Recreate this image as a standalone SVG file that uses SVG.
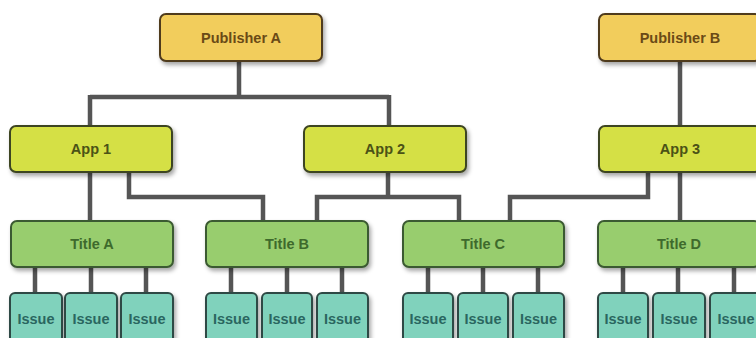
<svg xmlns="http://www.w3.org/2000/svg" width="756" height="338" viewBox="0 0 756 338">
<defs>
<filter id="sh" x="-10%" y="-20%" width="125%" height="150%">
<feDropShadow dx="2" dy="3" stdDeviation="2" flood-color="#000" flood-opacity="0.35"/>
</filter>
</defs>
<style>
text{font-family:"Liberation Sans",Arial,sans-serif;font-weight:bold;font-size:14.5px;text-anchor:middle;dominant-baseline:central}
.pub rect{fill:#f2cd5c;stroke:#4f3a1c;stroke-width:2;filter:url(#sh)}
.pub text{fill:#6a4a16}
.app rect{fill:#d5e044;stroke:#3d4420;stroke-width:2;filter:url(#sh)}
.app text{fill:#4b5216}
.title rect{fill:#98cd6e;stroke:#3a5a30;stroke-width:2;filter:url(#sh)}
.title text{fill:#3e6a2c}
.issue rect{fill:#80d2bc;stroke:#2f4a44;stroke-width:2;filter:url(#sh)}
.issue text{fill:#2a6660}
#connectors path{fill:none;stroke:#555;stroke-width:4.5}
</style>
<rect width="756" height="338" fill="#fff"/>
<g id="connectors">
<path d="M239 62V97M90 97H389M90 95V126M389 95V126"/>
<path d="M90 172V221M129 172V197H263V221"/>
<path d="M388 172V197M317 221V197H459V221"/>
<path d="M680 62V126M680 172V221M648 172V197H510V221"/>
<path d="M35 267V293M91 267V293M146 267V293"/>
<path d="M231 267V293M287 267V293M342 267V293"/>
<path d="M428 267V293M483 267V293M538 267V293"/>
<path d="M623 267V293M678 267V293M734 267V293"/>
</g>
<g id="publisherA" class="pub"><rect x="160" y="14" width="162" height="47" rx="6"/><text x="241" y="38">Publisher A</text></g>
<g id="publisherB" class="pub"><rect x="599" y="14" width="162" height="47" rx="6"/><text x="680" y="38">Publisher B</text></g>
<g id="app1" class="app"><rect x="10" y="126" width="162" height="46" rx="6"/><text x="91" y="149">App 1</text></g>
<g id="app2" class="app"><rect x="304" y="126" width="162" height="46" rx="6"/><text x="385" y="149">App 2</text></g>
<g id="app3" class="app"><rect x="599" y="126" width="162" height="46" rx="6"/><text x="680" y="149">App 3</text></g>
<g id="titleA" class="title"><rect x="11" y="221" width="162" height="46" rx="6"/><text x="92" y="244">Title A</text></g>
<g id="titleB" class="title"><rect x="206" y="221" width="162" height="46" rx="6"/><text x="287" y="244">Title B</text></g>
<g id="titleC" class="title"><rect x="403" y="221" width="161" height="46" rx="6"/><text x="483" y="244">Title C</text></g>
<g id="titleD" class="title"><rect x="598" y="221" width="162" height="46" rx="6"/><text x="679" y="244">Title D</text></g>
<g id="issueA1" class="issue"><rect x="10" y="293" width="52" height="55" rx="5"/><text x="36" y="319">Issue</text></g>
<g id="issueA2" class="issue"><rect x="65" y="293" width="52" height="55" rx="5"/><text x="91" y="319">Issue</text></g>
<g id="issueA3" class="issue"><rect x="121" y="293" width="52" height="55" rx="5"/><text x="147" y="319">Issue</text></g>
<g id="issueB1" class="issue"><rect x="206" y="293" width="51" height="55" rx="5"/><text x="231.5" y="319">Issue</text></g>
<g id="issueB2" class="issue"><rect x="262" y="293" width="50" height="55" rx="5"/><text x="287" y="319">Issue</text></g>
<g id="issueB3" class="issue"><rect x="317" y="293" width="51" height="55" rx="5"/><text x="342.5" y="319">Issue</text></g>
<g id="issueC1" class="issue"><rect x="403" y="293" width="50" height="55" rx="5"/><text x="428" y="319">Issue</text></g>
<g id="issueC2" class="issue"><rect x="458" y="293" width="50" height="55" rx="5"/><text x="483" y="319">Issue</text></g>
<g id="issueC3" class="issue"><rect x="513" y="293" width="51" height="55" rx="5"/><text x="538.5" y="319">Issue</text></g>
<g id="issueD1" class="issue"><rect x="598" y="293" width="50" height="55" rx="5"/><text x="623" y="319">Issue</text></g>
<g id="issueD2" class="issue"><rect x="653" y="293" width="52" height="55" rx="5"/><text x="679" y="319">Issue</text></g>
<g id="issueD3" class="issue"><rect x="710" y="293" width="52" height="55" rx="5"/><text x="736" y="319">Issue</text></g>
</svg>
